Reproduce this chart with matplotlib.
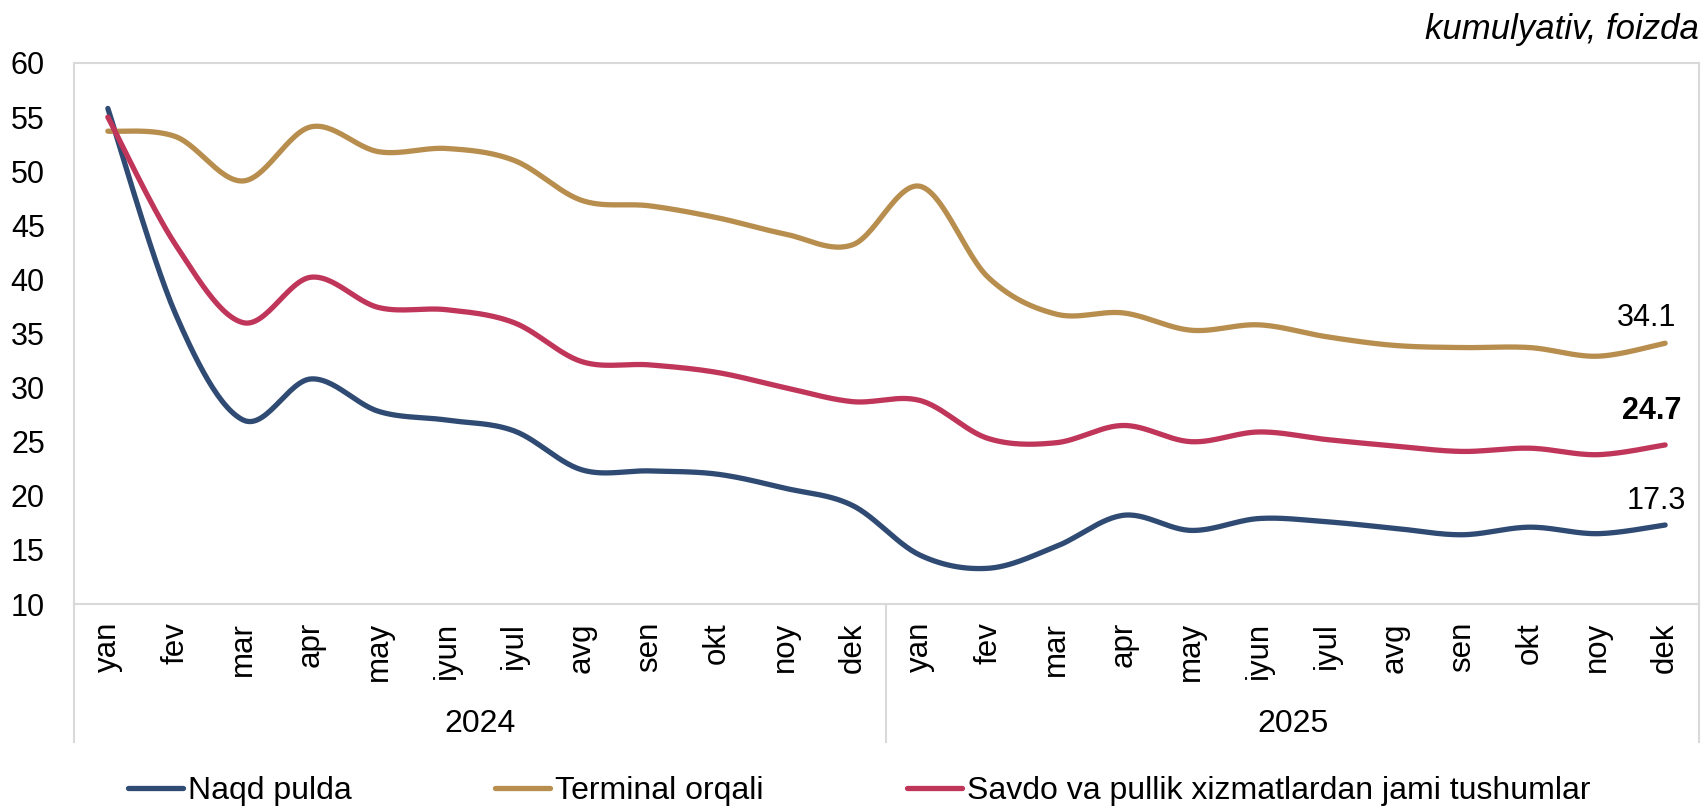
import numpy as np
import matplotlib
matplotlib.use("Agg")
import matplotlib.pyplot as plt
import matplotlib.transforms as mtransforms

# Data
months = ["yan", "fev", "mar", "apr", "may", "iyun", "iyul", "avg", "sen", "okt", "noy", "dek"]
years = ["2024", "2025"]
naqd = [55.8, 36.8, 27.0, 30.8, 27.8, 27.0, 26.0, 22.4, 22.3, 22.0, 20.7, 19.1,
        14.5, 13.3, 15.3, 18.2, 16.8, 17.9, 17.6, 17.0, 16.4, 17.1, 16.5, 17.3]
terminal = [53.7, 53.2, 49.1, 54.1, 51.8, 52.1, 51.0, 47.3, 46.8, 45.7, 44.2, 43.2,
            48.6, 40.2, 36.8, 36.9, 35.3, 35.8, 34.7, 33.9, 33.7, 33.7, 32.9, 34.1]
savdo = [55.0, 43.2, 36.0, 40.2, 37.4, 37.2, 36.0, 32.4, 32.1, 31.4, 30.0, 28.7,
         28.8, 25.3, 24.9, 26.5, 25.0, 25.9, 25.2, 24.6, 24.1, 24.4, 23.8, 24.7]

series = [
    ("Naqd pulda", naqd, "#2f4b73"),
    ("Terminal orqali", terminal, "#b88e4e"),
    ("Savdo va pullik xizmatlardan jami tushumlar", savdo, "#c0365a"),
]

plt.rcParams["font.family"] = ["Liberation Sans", "DejaVu Sans"]
FS = 22


def smooth(x, y, n=30):
    """Excel-like smoothed line: cubic Bezier through each point."""
    x = np.asarray(x, float)
    y = np.asarray(y, float)
    px = np.concatenate([[x[0]], x, [x[-1]]])
    py = np.concatenate([[y[0]], y, [y[-1]]])
    t = np.linspace(0, 1, n)[:, None]
    xs, ys = [], []
    for i in range(1, len(px) - 2):
        p0 = np.array([px[i], py[i]])
        p3 = np.array([px[i + 1], py[i + 1]])
        c1 = p0 + (p3 - np.array([px[i - 1], py[i - 1]])) / 6
        c2 = p3 - (np.array([px[i + 2], py[i + 2]]) - p0) / 6
        pts = ((1 - t) ** 3) * p0 + 3 * ((1 - t) ** 2) * t * c1 + 3 * (1 - t) * t ** 2 * c2 + t ** 3 * p3
        xs.append(pts[:, 0])
        ys.append(pts[:, 1])
    return np.concatenate(xs), np.concatenate(ys)


fig = plt.figure(figsize=(17.04, 8.08), dpi=100)
ax = fig.add_axes([74 / 1704, 1 - 604 / 808, (1699 - 74) / 1704, (604 - 63) / 808])

x = np.arange(len(naqd))
for label, vals, color in series:
    sx, sy = smooth(x, vals)
    ax.plot(sx, sy, color=color, lw=3.8, label=label, solid_capstyle="round")

ax.set_xlim(-0.5, len(x) - 0.5)
ax.set_ylim(10, 60)
ax.set_yticks(range(10, 61, 5))
ax.set_xticks(x)
ax.set_xticklabels(months * len(years), rotation=90)
ax.tick_params(axis="both", length=0)
ax.tick_params(axis="y", pad=21, labelsize=FS)
ax.tick_params(axis="x", pad=13, labelsize=22.5)
for sp in ax.spines.values():
    sp.set_color("#d9d9d9")
    sp.set_linewidth(1.5)

# Year group separators and labels below the axis
trans = mtransforms.blended_transform_factory(ax.transData, ax.transAxes)
for xv in [-0.5, 11.5, 23.5]:
    ax.plot([xv, xv], [0, -0.255], transform=trans, color="#d9d9d9", lw=1.5, clip_on=False)
for i, yr in enumerate(years):
    ax.text(5.5 + 12 * i, -0.222, yr, transform=trans, ha="center", va="center", fontsize=23)

# End-point labels
ax.annotate("34.1", (x[-1], terminal[-1]), xytext=(-19, 10), textcoords="offset pixels",
            ha="center", va="bottom", fontsize=FS)
ax.annotate("24.7", (x[-1], savdo[-1]), xytext=(-13, 19), textcoords="offset pixels",
            ha="center", va="bottom", fontsize=FS, fontweight="bold")
ax.annotate("17.3", (x[-1], naqd[-1]), xytext=(-9, 9), textcoords="offset pixels",
            ha="center", va="bottom", fontsize=FS)

fig.text(1699 / 1704, 1 - 30 / 808, "kumulyativ, foizda", ha="right", va="center",
         fontsize=25, fontstyle="italic")

fig.legend(loc="center left", bbox_to_anchor=(128 / 1704, 1 - 791 / 808), ncol=3,
           frameon=False, fontsize=23, handlelength=1.72, handletextpad=0.15,
           columnspacing=4.5, borderpad=0, borderaxespad=0)

fig.savefig("out.png", dpi=100)
